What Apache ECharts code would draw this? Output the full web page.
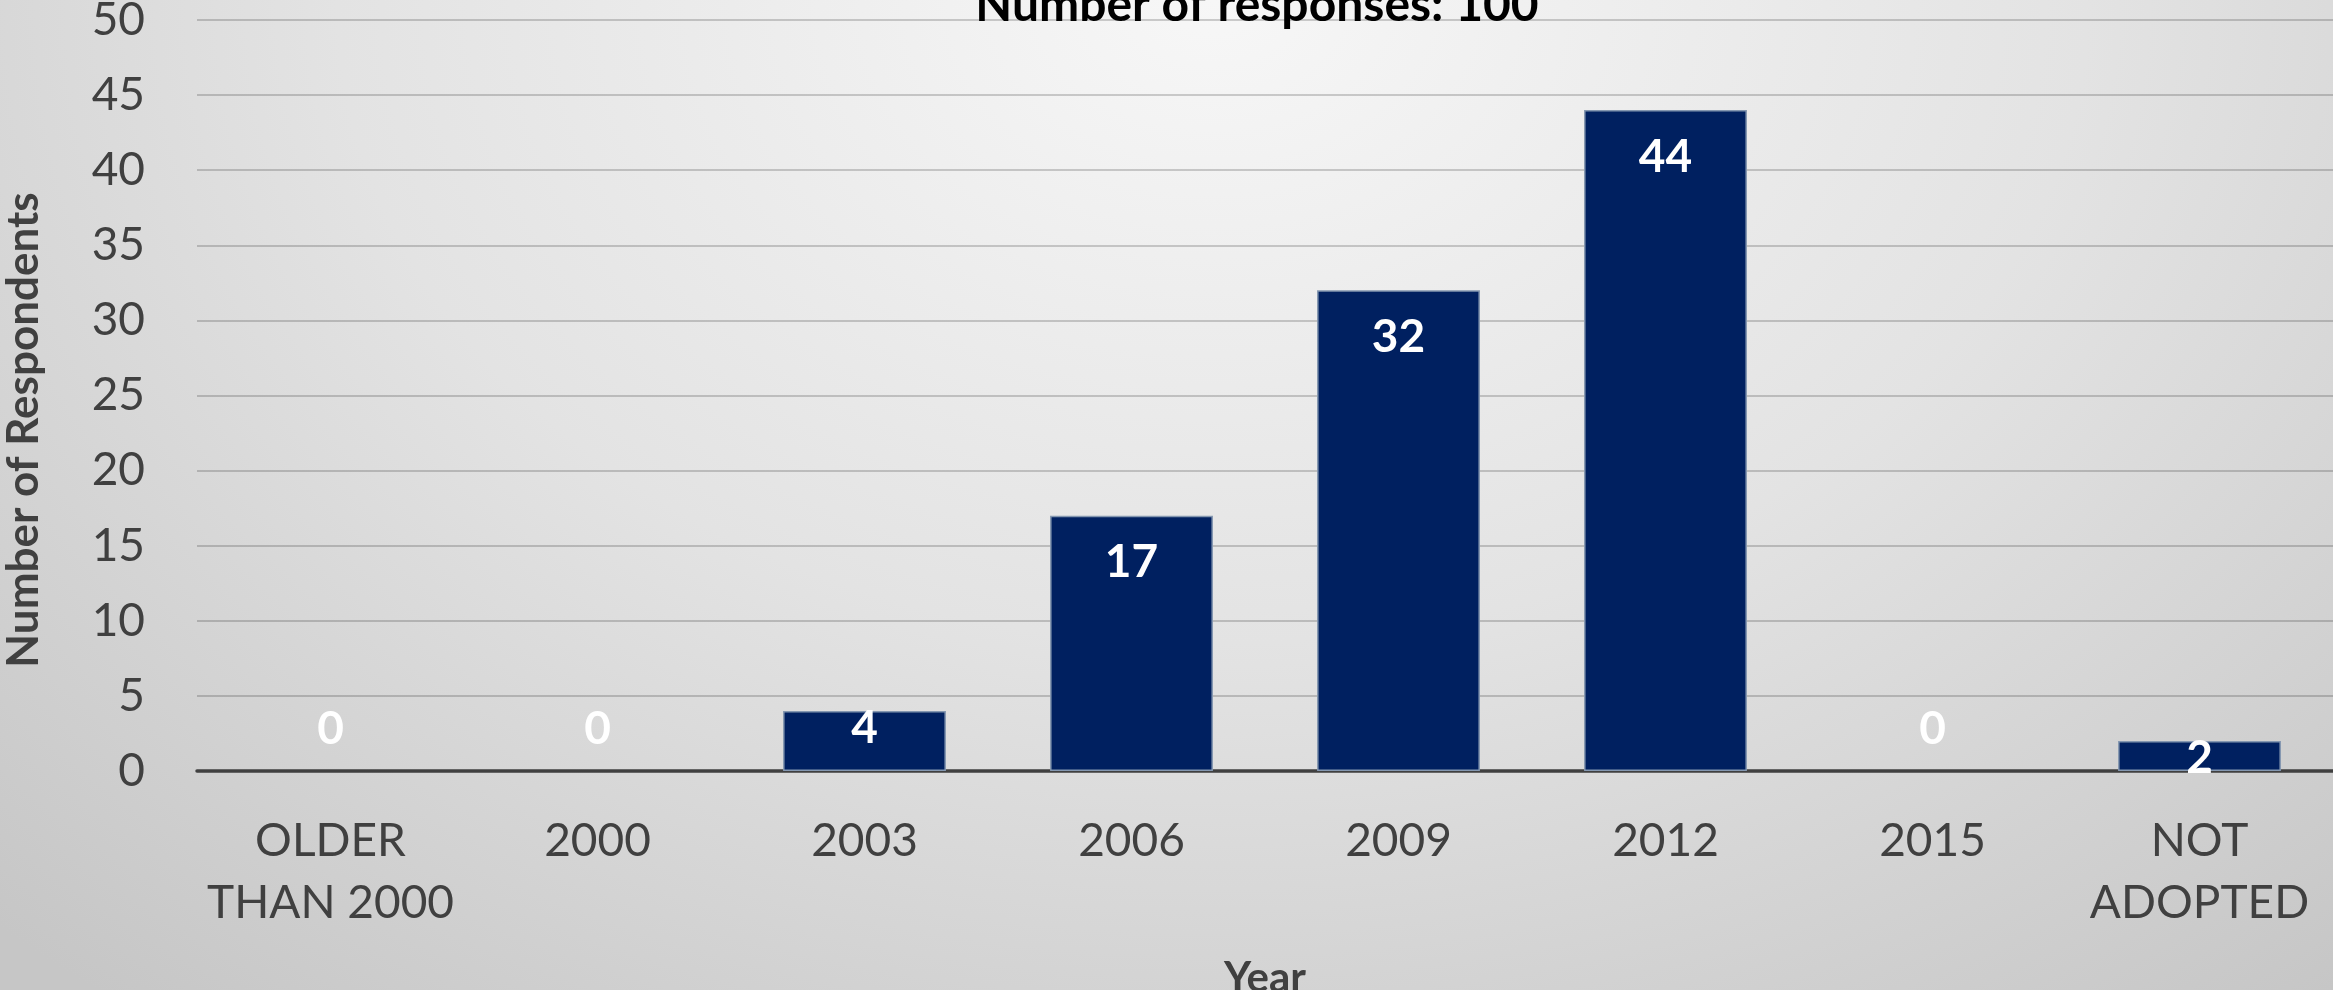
<!DOCTYPE html>
<html>
<head>
<meta charset="utf-8">
<script src="https://cdn.jsdelivr.net/npm/echarts@6/dist/echarts.min.js"></script>
<style>
  html, body { margin: 0; padding: 0; }
  body {
    width: 2333px;
    height: 990px;
    overflow: hidden;
    background: radial-gradient(ellipse 75% 130% at 52% 0%, #f7f7f7 0%, #e3e3e3 50%, #c6c6c6 100%);
  }
  #chart { width: 2333px; height: 990px; }
</style>
</head>
<body>
<div id="chart"></div>
<script>
const categories = ['OLDER\nTHAN 2000', '2000', '2003', '2006', '2009', '2012', '2015', 'NOT\nADOPTED'];
const respondents = [0, 0, 4, 17, 32, 44, 0, 2];
const yTicks = { min: 0, max: 50, step: 5 };

const chartTitle = 'Number of responses: 100';
const yName = 'Number of Respondents';
const xName = 'Year';

const font = 'Lato, "Open Sans", sans-serif';
const textColor = '#404040';

// Excel-like label placement: zero sits above the axis, short bars get the label pushed up
const labelFor = v => {
  if (v === 0) return { position: 'insideBottom', distance: 19 };
  if (v < 5) return { position: 'insideTop', distance: -6 };
  return { position: 'insideTop', distance: 24 };
};

const chart = echarts.init(document.getElementById('chart'));

const option = {
  backgroundColor: 'transparent',
  animation: false,
  grid: { left: 197, right: 0, top: 20, bottom: 219, outerBoundsMode: 'none', containLabel: false },
  graphic: [
    {
      type: 'text',
      x: 1257,
      y: 6,
      style: {
        text: chartTitle,
        fill: '#000',
        font: 'bold 48px ' + font,
        textAlign: 'center',
        textVerticalAlign: 'middle'
      }
    },
    {
      type: 'text',
      x: 24,
      y: 430,
      rotation: Math.PI / 2,
      style: {
        text: yName,
        fill: textColor,
        font: 'bold 44px ' + font,
        textAlign: 'center',
        textVerticalAlign: 'middle'
      }
    }
  ],
  xAxis: {
    type: 'category',
    data: categories,
    name: xName,
    nameLocation: 'middle',
    nameGap: 186,
    nameTextStyle: { color: textColor, fontFamily: font, fontWeight: 'bold', fontSize: 42 },
    axisLine: { lineStyle: { color: '#404040', width: 3.5 } },
    axisTick: { show: false },
    axisLabel: {
      color: textColor,
      fontFamily: font,
      fontSize: 46,
      lineHeight: 62,
      verticalAlign: 'top',
      margin: 39,
      interval: 0
    }
  },
  yAxis: {
    type: 'value',
    min: yTicks.min,
    max: yTicks.max,
    interval: yTicks.step,
    axisLine: { show: false },
    axisTick: { show: false },
    axisLabel: { color: textColor, fontFamily: font, fontSize: 46, margin: 52 },
    splitLine: { lineStyle: { color: 'rgba(0,0,0,0.18)', width: 2 } }
  },
  series: [
    {
      type: 'bar',
      barCategoryGap: '39%',
      data: respondents.map(v => ({
        value: v,
        label: labelFor(v),
        itemStyle: v === 0 ? { borderWidth: 0 } : undefined
      })),
      itemStyle: { color: '#002060', borderColor: '#8497b0', borderWidth: 1.5 },
      label: {
        show: true,
        color: '#fff',
        fontFamily: font,
        fontWeight: 'bold',
        fontSize: 46
      }
    }
  ]
};

chart.setOption(option);
</script>
</body>
</html>
